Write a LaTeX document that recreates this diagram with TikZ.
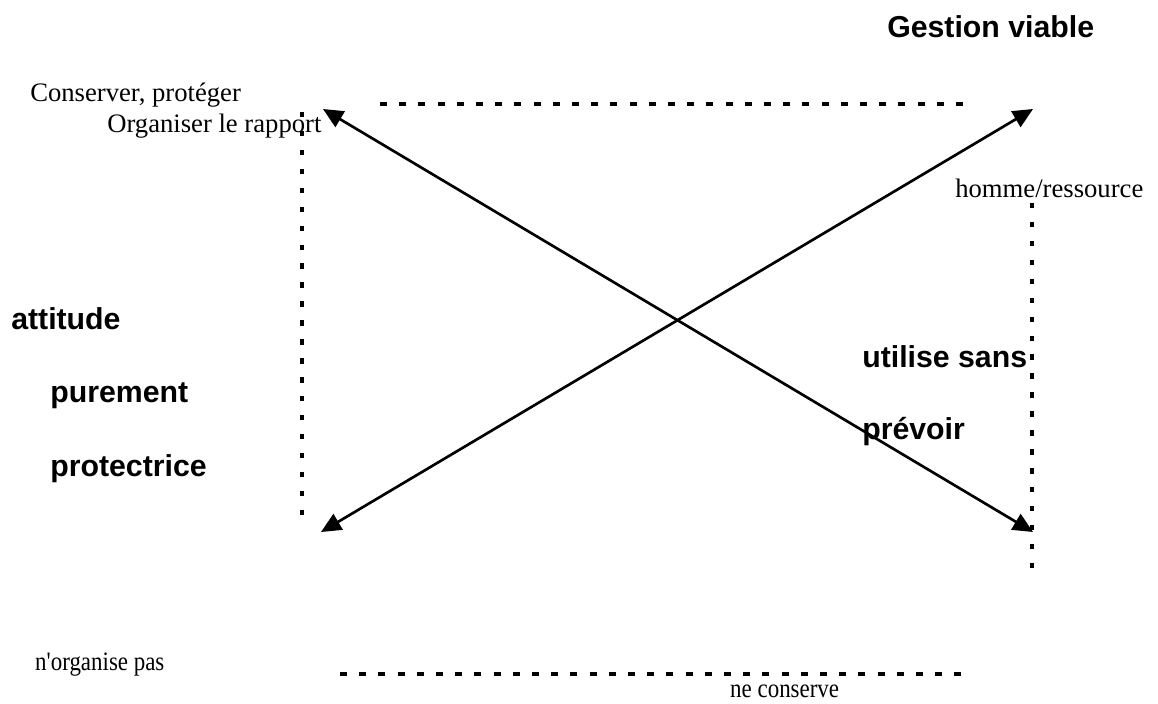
\documentclass[tikz,border=0pt]{standalone}
\usepackage{fontspec}
\setmainfont{Liberation Serif}
\newfontfamily\plainrm{Liberation Serif}
\newfontfamily\hsans{Liberation Sans}
\usetikzlibrary{arrows.meta}
\begin{document}
\begin{tikzpicture}[x=0.75pt,y=-0.75pt,
  serif/.style={anchor=base west,inner sep=0pt,font=\plainrm\fontsize{20}{24}\selectfont},
  thin serif/.style={serif,xscale=0.86},
  heavy/.style={anchor=base west,inner sep=0pt,font=\hsans\bfseries\fontsize{22.7}{27}\selectfont},
  hdots/.style={line width=2.6pt,dash pattern=on 5.2pt off 9.2pt},
  vdots/.style={line width=3pt,dash pattern=on 4.1pt off 10.1pt},
  twoway/.style={line width=2pt,{Triangle[length=15pt,width=13.5pt]}-{Triangle[length=15pt,width=13.5pt]}}]
\useasboundingbox (0,0) rectangle (1158,704);

% corners of the frame
\coordinate (tl) at (323,109);
\coordinate (tr) at (1033,109);
\coordinate (bl) at (321,532);
\coordinate (br) at (1033,532);

% dotted edges
\draw[hdots] (380,104) -- (963,104);
\draw[hdots] (340,674) -- (966,674);
\draw[vdots] (302,112) -- (302,520);
\draw[vdots] (1032,203) -- (1032,576);

% crossing diagonals
\draw[twoway] (tl) -- (br);
\draw[twoway] (bl) -- (tr);

% labels
\node[heavy] (gv) at (887,37) {Gestion viable};
\node[serif] (cp) at (30,101) {Conserver, protéger};
\node[serif] (or) at (107,132) {Organiser le rapport};
\node[serif] (hr) at (955,197) {homme/ressource};
\node[heavy] (a1) at (11,329) {attitude};
\node[heavy] (a2) at (50,402) {purement};
\node[heavy] (a3) at (50,476) {protectrice};
\node[heavy] (u1) at (862,367) {utilise sans};
\node[heavy] (u2) at (862,439) {prévoir};
\node[thin serif] (np) at (35,670) {n'organise pas};
\node[thin serif] (nc) at (730,697) {ne conserve};
\end{tikzpicture}
\end{document}
